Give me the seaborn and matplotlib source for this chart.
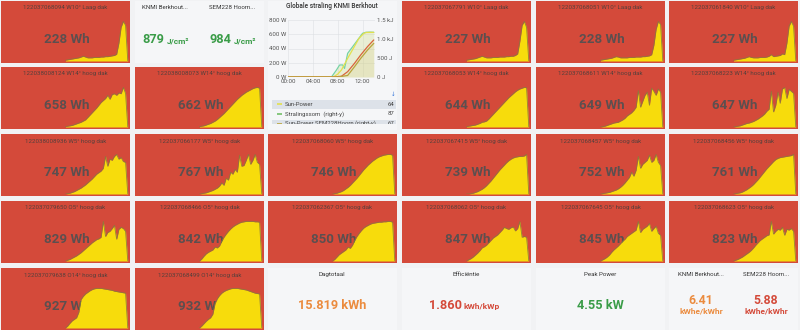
import matplotlib
matplotlib.use("Agg")
import matplotlib.pyplot as plt
from matplotlib.patches import Rectangle
import seaborn as sns

sns.set_theme(style="white")
plt.rcParams['font.family'] = ['Roboto', 'DejaVu Sans']

# ---------------- data ----------------
hours = [7.25, 7.5, 7.75, 8.0, 8.25, 8.5, 8.75, 9.0, 9.25, 9.5, 9.75, 10.0, 10.25, 10.5,
         10.75, 11.0, 11.25, 11.5, 11.75, 12.0, 12.25, 12.5, 12.75, 13.0, 13.25, 13.5,
         13.75, 14.0, 14.25]

panel_titles = [
    "122037068094 W10° Laag dak", "122037067791 W10° Laag dak", "122037068051 W10° Laag dak",
    "122037061840 W10° Laag dak",
    "122038008124 W14° hoog dak", "122038008073 W14° hoog dak", "122037068053 W14° hoog dak",
    "122037068611 W14° hoog dak", "122037068223 W14° hoog dak",
    "122038008936 W5° hoog dak", "122037066177 W5° hoog dak", "122037068060 W5° hoog dak",
    "122037067415 W5° hoog dak", "122037068457 W5° hoog dak", "122037068456 W5° hoog dak",
    "122037079650 O5° hoog dak", "122037068466 O5° hoog dak", "122037062367 O5° hoog dak",
    "122037068062 O5° hoog dak", "122037067645 O5° hoog dak", "122037068623 O5° hoog dak",
    "122037079638 O14° hoog dak", "122037068499 O14° hoog dak",
]
panel_wh = [228, 227, 228, 227,
            658, 662, 644, 649, 647,
            747, 767, 746, 739, 752, 761,
            829, 842, 850, 847, 845, 823,
            927, 932]

p_068094 = [2, 3, 4, 5, 6, 7, 8, 10, 12, 10, 8, 8, 8, 9, 9, 9, 10, 10, 11, 11, 12, 13, 14, 17, 45, 85, 100, 90, 0]
p_067791 = [2, 3, 4, 5, 6, 8, 10, 12, 10, 8, 8, 8, 9, 9, 9, 10, 10, 10, 11, 11, 12, 12, 14, 18, 50, 90, 100, 85, 0]
p_068051 = [2, 3, 4, 5, 6, 7, 9, 11, 10, 8, 8, 8, 8, 9, 9, 9, 10, 10, 10, 11, 11, 12, 13, 16, 40, 80, 100, 92, 0]
p_061840 = [2, 3, 4, 5, 6, 7, 9, 11, 9, 8, 8, 8, 9, 9, 9, 10, 12, 16, 11, 12, 13, 14, 18, 16, 45, 88, 100, 88, 0]
p_008124 = [1, 2, 3, 4, 6, 8, 10, 12, 15, 18, 24, 30, 36, 42, 48, 55, 62, 67, 72, 80, 70, 82, 84, 80, 86, 84, 100, 85, 0]
p_008073 = [1, 2, 3, 5, 7, 9, 12, 15, 19, 24, 29, 34, 40, 46, 52, 58, 64, 70, 75, 80, 84, 88, 91, 94, 97, 99, 100, 98, 0]
p_068053 = [1, 2, 3, 4, 5, 7, 9, 12, 13, 15, 20, 26, 32, 38, 44, 50, 56, 62, 68, 74, 79, 84, 89, 93, 96, 98, 100, 99, 0]
p_068611 = [0, 1, 2, 4, 6, 8, 10, 11, 12, 15, 18, 22, 28, 32, 36, 42, 50, 92, 50, 65, 80, 88, 55, 98, 90, 80, 96, 88, 0]
p_068223 = [0, 1, 2, 3, 5, 7, 9, 10, 12, 14, 17, 20, 24, 28, 33, 40, 45, 90, 38, 55, 88, 60, 96, 100, 72, 95, 90, 85, 0]
p_008936 = [0, 1, 2, 4, 6, 9, 12, 15, 19, 23, 28, 33, 38, 44, 50, 54, 58, 65, 95, 70, 88, 85, 95, 100, 88, 92, 82, 80, 0]
p_066177 = [0, 1, 2, 3, 5, 7, 9, 12, 15, 20, 28, 22, 40, 35, 55, 50, 62, 55, 98, 70, 72, 85, 100, 75, 85, 100, 80, 75, 0]
p_068060 = [0, 1, 2, 4, 6, 9, 13, 17, 22, 28, 34, 40, 47, 54, 61, 67, 73, 78, 83, 87, 91, 94, 96, 98, 99, 100, 100, 98, 0]
p_067415 = [0, 0, 1, 2, 4, 6, 9, 12, 16, 21, 27, 33, 40, 47, 54, 61, 67, 73, 79, 84, 88, 91, 93, 94, 95, 95, 96, 100, 0]
p_068457 = [0, 1, 2, 3, 4, 6, 8, 10, 13, 17, 22, 28, 35, 42, 55, 45, 60, 95, 65, 75, 80, 85, 98, 80, 85, 100, 80, 72, 0]
p_068456 = [0, 1, 2, 3, 5, 8, 11, 15, 19, 24, 30, 36, 43, 50, 57, 64, 70, 76, 82, 87, 90, 92, 93, 94, 95, 96, 97, 100, 0]
p_079650 = [0, 2, 4, 7, 10, 13, 17, 21, 26, 31, 36, 41, 46, 50, 54, 56, 60, 100, 62, 72, 75, 82, 90, 55, 80, 85, 82, 75, 0]
p_068466 = [0, 5, 12, 18, 22, 25, 28, 35, 33, 38, 50, 60, 68, 75, 81, 86, 90, 93, 96, 98, 99, 100, 100, 100, 100, 99, 99, 98, 0]
p_062367 = [0, 4, 10, 16, 20, 24, 28, 35, 32, 40, 52, 62, 70, 77, 83, 87, 90, 93, 95, 96, 97, 98, 98, 99, 99, 100, 100, 98, 0]
p_068062 = [0, 3, 6, 10, 15, 20, 26, 33, 36, 40, 46, 52, 58, 62, 66, 72, 78, 85, 82, 80, 84, 86, 76, 82, 100, 60, 62, 60, 0]
p_067645 = [0, 3, 6, 10, 15, 22, 28, 33, 38, 44, 50, 55, 62, 66, 70, 74, 78, 100, 72, 80, 84, 88, 95, 75, 82, 88, 70, 65, 0]
p_068623 = [0, 2, 4, 7, 10, 14, 18, 22, 27, 33, 40, 46, 52, 56, 60, 64, 66, 100, 68, 75, 80, 78, 85, 65, 80, 78, 82, 75, 0]
p_079638 = [0, 5, 12, 18, 22, 26, 40, 72, 80, 86, 90, 94, 97, 99, 100, 100, 100, 99, 98, 97, 96, 95, 93, 92, 91, 90, 89, 88, 0]
p_068499 = [0, 5, 11, 17, 22, 26, 35, 62, 74, 82, 88, 92, 95, 97, 99, 100, 100, 100, 99, 98, 97, 96, 94, 92, 90, 88, 87, 86, 0]

profiles = [p_068094, p_067791, p_068051, p_061840,
            p_008124, p_008073, p_068053, p_068611, p_068223,
            p_008936, p_066177, p_068060, p_067415, p_068457, p_068456,
            p_079650, p_068466, p_062367, p_068062, p_067645, p_068623,
            p_079638, p_068499]

# Globale straling chart
knmi_hours = [0, 7.0, 7.8, 8.3, 8.8, 9.1, 9.6, 10.4, 11.2, 12.0, 12.5, 13.2, 13.8]
knmi_power = [0, 0, 98, 168, 170, 120, 332, 425, 519, 613, 627, 630, 627]
sem_hours = [0, 7.3, 8.0, 8.6, 9.6, 10.5, 11.4, 12.2, 12.6, 13.8]
sem_power = [0, 0, 40, 98, 262, 400, 540, 613, 625, 627]
knmi_sum_hours = [0, 7.4, 8.6, 9.6, 10.7, 11.7, 12.8, 13.8]
knmi_sum = [0, 0, 20, 140, 360, 580, 800, 975]
sem_sum_hours = [0, 8.0, 9.6, 10.7, 11.7, 12.8, 13.8]
sem_sum = [0, 0, 40, 270, 490, 710, 885]
legend_names = ["Sun-Power", "Stralingssom  (right-y)", "Sun-Power SEM228Hoorn (right-y)"]
legend_values = ["64", "87", "67"]

# stat panels
stat_titles = ["KNMI Berkhout...", "SEM228 Hoorn..."]
stat_values = ["879", "984"]
day_total = "15.819 kWh"
efficiency = "1.860"
peak_power = "4.55 kW"
ratio_values = ["6.41", "5.88"]

# ---------------- layout ----------------
W, H = 800, 330
fig = plt.figure(figsize=(8, 3.3), dpi=100)
fig.patch.set_facecolor('#f1f2f4')

def rect(x, y, w, h):
    return [x / W, 1 - (y + h) / H, w / W, h / H]

bg = fig.add_axes([0, 0, 1, 1])
bg.set_xlim(0, W)
bg.set_ylim(H, 0)
bg.axis('off')

cols = [1, 135, 268, 402, 536, 669]
colw = 129
rows = [1, 67, 134, 201, 268]
rowh = 62

RED = '#d44a3a'
YEL = '#f7dc0c'
VALC = '#5c4f4f'
GREEN = '#3a9c48'
ORANGE = '#eb8b3e'

cells = [(0, 0), (0, 3), (0, 4), (0, 5),
         (1, 0), (1, 1), (1, 3), (1, 4), (1, 5),
         (2, 0), (2, 1), (2, 2), (2, 3), (2, 4), (2, 5),
         (3, 0), (3, 1), (3, 2), (3, 3), (3, 4), (3, 5),
         (4, 0), (4, 1)]

# light panels
light = '#f5f6f8'
for (x, y, w, h) in [(135, 1, 129, 62), (268, 1, 129, 129), (268, 268, 129, 62),
                     (402, 268, 129, 62), (536, 268, 129, 62), (669, 268, 129, 62)]:
    bg.add_patch(Rectangle((x, y), w, h, facecolor=light, edgecolor='none'))

for k, (r, c) in enumerate(cells):
    x, y = cols[c], rows[r]
    bg.add_patch(Rectangle((x, y), colw, rowh, facecolor=RED, edgecolor='none'))
    bg.text(x + colw / 2, y + 8.5, panel_titles[k], fontsize=4.4, color='#55403c',
            ha='center', va='baseline')
    bg.text(x + colw / 2 + 1, y + 42, f"{panel_wh[k]} Wh", fontsize=9.6, color=VALC,
            ha='center', va='baseline', fontweight='bold')

for k, (r, c) in enumerate(cells):
    x, y = cols[c], rows[r]
    sa = fig.add_axes(rect(x, y + rowh - 42, colw, 40))
    sa.set_facecolor('none')
    sa.fill_between(hours, profiles[k], 0, color=YEL, lw=0)
    sns.lineplot(x=hours, y=profiles[k], ax=sa, color='#8a7a3c', lw=0.6, alpha=0.9)
    sa.set_xlim(0, 14.5)
    sa.set_ylim(0, 101)
    sa.axis('off')

# stat panels top row (col1)
for xc, t, v in zip([165, 232], stat_titles, stat_values):
    bg.text(xc, 9, t, fontsize=4.4, color='#333333', ha='center', va='baseline')
    bg.text(xc - 1, 43, v, fontsize=9.2, color=GREEN, ha='right', va='baseline', fontweight='bold')
    bg.text(xc + 1.5, 43, "J/cm²", fontsize=6, color=GREEN, ha='left', va='baseline', fontweight='bold')

# bottom stat panels
bg.text(332, 276, "Dagtotaal", fontsize=4.4, color='#333333', ha='center', va='baseline')
bg.text(332, 309, day_total, fontsize=9.2, color=ORANGE, ha='center', va='baseline', fontweight='bold')
bg.text(466, 276, "Efficiëntie", fontsize=4.4, color='#333333', ha='center', va='baseline')
bg.text(462, 309, efficiency, fontsize=9.2, color=RED, ha='right', va='baseline', fontweight='bold')
bg.text(464, 309, "kWh/kWp", fontsize=6, color=RED, ha='left', va='baseline', fontweight='bold')
bg.text(600, 276, "Peak Power", fontsize=4.4, color='#333333', ha='center', va='baseline')
bg.text(600, 309, peak_power, fontsize=9.2, color=GREEN, ha='center', va='baseline', fontweight='bold')
for xc, t, v, col in zip([701, 766], stat_titles, ratio_values, [ORANGE, RED]):
    bg.text(xc, 276, t, fontsize=4.4, color='#333333', ha='center', va='baseline')
    bg.text(xc, 303.5, v, fontsize=8.8, color=col, ha='center', va='baseline', fontweight='bold')
    bg.text(xc, 313.5, "kWhe/kWhr", fontsize=6, color=col, ha='center', va='baseline', fontweight='bold')

# Globale straling chart
bg.text(332, 8.5, "Globale straling KNMI Berkhout", fontsize=4.7, color='#333333',
        ha='center', va='baseline', fontweight='medium')
ax = fig.add_axes(rect(288, 20, 87, 57))
ax.set_facecolor('none')
ax2 = ax.twinx()
ax.fill_between(knmi_hours, knmi_power, 0, color='#c8d86a', alpha=0.25, lw=0)
sns.lineplot(x=knmi_hours, y=knmi_power, ax=ax, color='#76d3a4', lw=0.9)
sns.lineplot(x=sem_hours, y=sem_power, ax=ax, color='#e2e04e', lw=0.9)
ax2.fill_between(knmi_sum_hours, knmi_sum, 0, color='#d8c070', alpha=0.18, lw=0)
sns.lineplot(x=knmi_sum_hours, y=knmi_sum, ax=ax2, color='#d8643a', lw=0.9)
sns.lineplot(x=sem_sum_hours, y=sem_sum, ax=ax2, color='#b9a43c', lw=0.9)
ax.set_xlim(0, 14)
ax.set_ylim(0, 800)
ax2.set_ylim(0, 1500)
ax.set_xticks([0, 4, 8, 12])
ax.set_xticklabels(["00:00", "04:00", "08:00", "12:00"])
ax.set_yticks([0, 200, 400, 600, 800])
ax.set_yticklabels(["0 W", "200 W", "400 W", "600 W", "800 W"])
ax2.set_yticks([0, 500, 1000, 1500])
ax2.set_yticklabels(["0 J", "500 J", "1.0 kJ", "1.5 kJ"])
for a in (ax, ax2):
    for s in a.spines.values():
        s.set_visible(False)
    a.tick_params(labelsize=4.4, colors='#555555', length=0, pad=1.5)
    a.set_xlabel("")
    a.set_ylabel("")
ax.grid(True, color='#dcdfe3', lw=0.4)
ax.set_axisbelow(True)

# legend (last row cut off at the panel bottom)
lg = fig.add_axes(rect(270, 90, 127, 34.5))
lg.set_xlim(0, 127)
lg.set_ylim(34.5, 0)
lg.axis('off')
lg.text(123, 4.5, "↓", fontsize=4, color='#3274d9', ha='center', va='center', clip_on=True)
lg.add_patch(Rectangle((2, 9.5), 124, 9, facecolor='#dde2e9', edgecolor='none'))
lg.add_patch(Rectangle((2, 30.5), 124, 6, facecolor='#dde2e9', edgecolor='none'))
for i, (nm, v, c) in enumerate(zip(legend_names, legend_values, ['#e2e04e', '#73bf69', '#b9a43c'])):
    yy = 14 + i * 9.8
    lg.plot([7, 12], [yy, yy], color=c, lw=1.2, solid_capstyle='butt', clip_on=True)
    lg.text(15, yy, nm, fontsize=4.3, color='#444444', ha='left', va='center', clip_on=True)
    lg.text(124, yy, v, fontsize=4.3, color='#444444', ha='right', va='center', clip_on=True)

fig.savefig("out.png", dpi=100, facecolor=fig.get_facecolor())
